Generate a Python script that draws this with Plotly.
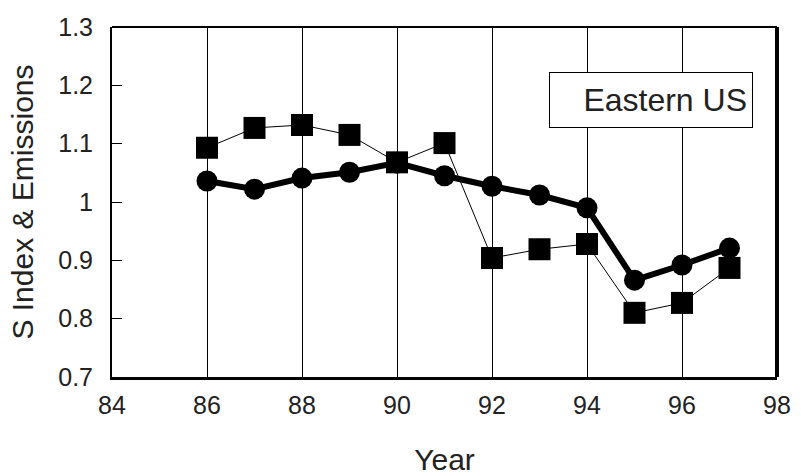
import plotly.graph_objects as go

years = [86, 87, 88, 89, 90, 91, 92, 93, 94, 95, 96, 97]
emissions = [1.093, 1.127, 1.132, 1.115, 1.068, 1.101, 0.904, 0.919, 0.928, 0.810, 0.827, 0.887]
s_index = [1.036, 1.022, 1.041, 1.051, 1.067, 1.045, 1.027, 1.012, 0.990, 0.866, 0.892, 0.921]
region_label = "Eastern US"

font_family = "Liberation Sans, Arial, sans-serif"

fig = go.Figure()
fig.add_trace(go.Scatter(
    x=years, y=emissions, mode="lines+markers",
    line=dict(color="black", width=1),
    marker=dict(symbol="square", size=22, color="black"),
    showlegend=False,
))
fig.add_trace(go.Scatter(
    x=years, y=s_index, mode="lines+markers",
    line=dict(color="black", width=6),
    marker=dict(symbol="circle", size=21, color="black"),
    showlegend=False,
))

fig.update_layout(
    width=801, height=476,
    margin=dict(l=112, r=24, t=27, b=99),
    plot_bgcolor="white", paper_bgcolor="white",
    font=dict(family=font_family, color="#222", size=25),
    xaxis=dict(
        range=[84, 98], dtick=2, tick0=84,
        showgrid=True, gridcolor="black", gridwidth=1,
        showline=True, linecolor="black", linewidth=3,
        ticks="", zeroline=False, automargin=False,
        title=dict(text="Year", font=dict(size=30), standoff=40),
        tickfont=dict(size=25),
        ticklabelstandoff=4,
    ),
    yaxis=dict(
        range=[0.7, 1.3], dtick=0.1, tick0=0.7,
        showgrid=False,
        showline=True, linecolor="black", linewidth=2,
        ticks="inside", ticklen=10, tickcolor="black", tickwidth=1,
        zeroline=False, automargin=False,
        title=dict(text="S Index & Emissions", font=dict(size=30), standoff=16),
        tickfont=dict(size=25),
        ticklabelstandoff=12,
    ),
    shapes=[
        dict(type="line", xref="paper", yref="paper", x0=0, x1=1, y0=1, y1=1,
             line=dict(color="black", width=2)),
        dict(type="line", xref="paper", yref="paper", x0=1, x1=1, y0=0, y1=1,
             line=dict(color="black", width=4)),
    ],
    annotations=[
        dict(text=region_label, xref="paper", yref="paper", x=0.9639, y=0.8714,
             xanchor="right", yanchor="top", showarrow=False,
             font=dict(size=32, color="#222"),
             width=192, height=44, align="right", valign="middle",
             bordercolor="black", borderwidth=1, borderpad=5, bgcolor="white"),
    ],
)

fig.write_html("out.html", config={"displayModeBar": False},
               post_script="document.body.style.margin='0';")
